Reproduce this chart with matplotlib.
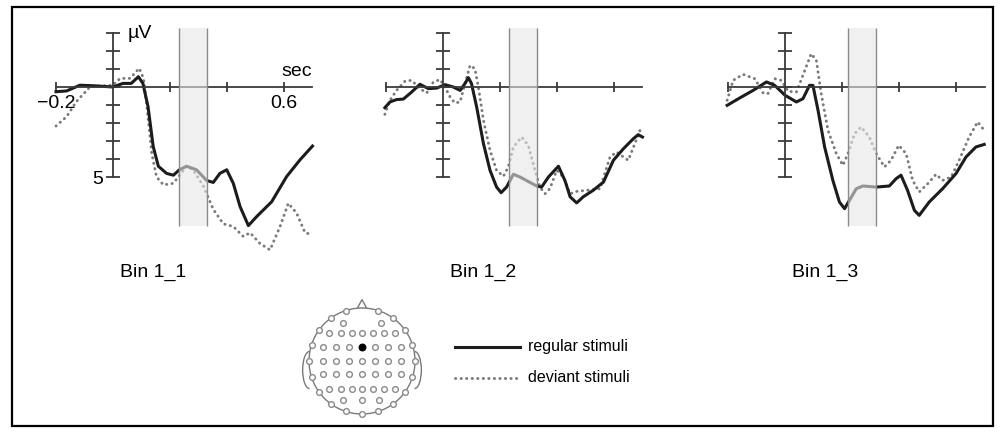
import matplotlib
matplotlib.use("Agg")
import matplotlib.pyplot as plt
from matplotlib.patches import Circle, Arc, Polygon, Rectangle
import numpy as np

plt.rcParams['font.family'] = ['Liberation Sans', 'DejaVu Sans']

# ---- data (time in s, amplitude in microvolts, negative up) ----
t1_reg = [-0.2, -0.163, -0.116, -0.069, 0.0, 0.035, 0.064, 0.089, 0.105, 0.123, 0.141, 0.159,
          0.188, 0.212, 0.233, 0.258, 0.293, 0.329, 0.352, 0.375, 0.399, 0.422, 0.446, 0.475,
          0.504, 0.557, 0.609, 0.656, 0.7]
v1_reg = [0.26, 0.22, -0.1, -0.07, 0.0, -0.2, -0.2, -0.57, -0.2, 1.1, 3.3, 4.4,
          4.8, 4.9, 4.6, 4.4, 4.6, 5.2, 5.3, 4.8, 4.6, 5.35, 6.65, 7.7,
          7.2, 6.37, 4.98, 4.05, 3.28]
t1_dev = [-0.2, -0.163, -0.128, -0.081, -0.052, 0.0, 0.025, 0.06, 0.092, 0.107, 0.119, 0.136,
          0.153, 0.177, 0.212, 0.229, 0.258, 0.281, 0.317, 0.352, 0.387, 0.422, 0.457, 0.481,
          0.516, 0.551, 0.586, 0.615, 0.644, 0.674, 0.7]
v1_dev = [2.17, 1.65, 0.8, 0.0, -0.05, -0.1, -0.48, -0.48, -1.04, -0.48, 1.1, 3.7,
          5.0, 5.44, 5.35, 5.0, 4.4, 4.6, 5.5, 6.8, 7.6, 7.75, 8.3, 8.1,
          8.7, 9.05, 7.76, 6.46, 7.0, 8.1, 8.2]

t2_reg = [-0.204, -0.186, -0.163, -0.139, -0.11, -0.081, -0.051, -0.022, 0.007, 0.036, 0.06,
          0.077, 0.089, 0.1, 0.118, 0.142, 0.165, 0.188, 0.204, 0.223, 0.247, 0.27, 0.305,
          0.329, 0.346, 0.37, 0.405, 0.428, 0.446, 0.469, 0.492, 0.527, 0.563, 0.598, 0.633,
          0.668, 0.685, 0.7]
v2_reg = [1.15, 0.83, 0.7, 0.67, 0.28, -0.15, 0.09, 0.06, -0.13, 0.0, 0.19,
          -0.19, -0.52, -0.19, 1.1, 3.15, 4.63, 5.56, 5.87, 5.56, 4.85, 5.0, 5.3,
          5.5, 5.56, 5.0, 4.4, 5.2, 6.1, 6.44, 6.1, 5.74, 5.28, 4.07, 3.43,
          2.87, 2.65, 2.78]
t2_dev = [-0.204, -0.186, -0.163, -0.133, -0.11, -0.081, -0.057, -0.034, -0.01, 0.007, 0.025,
          0.042, 0.06, 0.077, 0.095, 0.112, 0.124, 0.142, 0.165, 0.188, 0.212, 0.229, 0.247,
          0.276, 0.299, 0.323, 0.34, 0.358, 0.375, 0.399, 0.422, 0.446, 0.469, 0.504, 0.551,
          0.586, 0.609, 0.633, 0.65, 0.673, 0.691, 0.7]
v2_dev = [1.52, 0.74, 0.19, -0.33, -0.37, 0.09, 0.33, -0.28, -0.41, 0.0, 0.56,
          0.89, 0.83, -0.19, -1.2, -1.02, 0.0, 1.85, 3.52, 4.63, 4.96, 4.44, 3.33,
          2.78, 3.24, 4.63, 5.56, 5.93, 5.65, 4.63, 5.0, 5.93, 5.8, 5.74, 5.65,
          3.89, 3.61, 3.89, 4.07, 3.15, 2.41, 2.6]

t3_reg = [-0.203, -0.159, -0.112, -0.065, -0.036, 0.0, 0.04, 0.063, 0.086, 0.098, 0.116,
          0.139, 0.168, 0.191, 0.209, 0.226, 0.25, 0.273, 0.32, 0.366, 0.39, 0.407, 0.43,
          0.454, 0.471, 0.506, 0.553, 0.6, 0.635, 0.67, 0.699]
v3_reg = [1.02, 0.61, 0.19, -0.28, -0.09, 0.46, 0.83, 0.65, -0.09, -0.09, 1.3,
          3.33, 5.19, 6.39, 6.76, 6.3, 5.65, 5.5, 5.56, 5.5, 5.09, 4.9, 5.74,
          6.85, 7.13, 6.39, 5.65, 4.81, 3.89, 3.33, 3.19]
t3_dev = [-0.203, -0.182, -0.147, -0.106, -0.077, -0.06, -0.036, -0.013, 0.011, 0.04, 0.063,
          0.092, 0.11, 0.127, 0.151, 0.18, 0.203, 0.221, 0.244, 0.267, 0.296, 0.32, 0.349,
          0.372, 0.399, 0.425, 0.448, 0.471, 0.501, 0.53, 0.553, 0.583, 0.611, 0.646, 0.676,
          0.699]
v3_dev = [0.74, -0.37, -0.7, -0.46, 0.33, 0.37, -0.46, -0.37, 0.24, 0.28, -0.65,
          -1.85, -1.48, 0.37, 2.41, 3.7, 4.35, 3.7, 2.59, 2.22, 2.78, 3.7, 4.44,
          4.07, 3.24, 3.7, 5.19, 5.83, 5.37, 4.85, 5.19, 5.0, 4.07, 2.78, 1.94,
          2.41]

bins = ["Bin 1_1", "Bin 1_2", "Bin 1_3"]
windows = [(0.23, 0.33), (0.23, 0.33), (0.22, 0.32)]
x_ticks = [-0.2, 0.2, 0.4, 0.6]
y_ticks = [-3, -2, -1, 0, 1, 2, 3, 4, 5]

panels = [(t1_reg, v1_reg, t1_dev, v1_dev),
          (t2_reg, v2_reg, t2_dev, v2_dev),
          (t3_reg, v3_reg, t3_dev, v3_dev)]

# electrode montage (head radius = 1)
row_y = [0.72, 0.52, 0.26, 0.0, -0.25, -0.52, -0.74]
row_x = [[-0.35, 0.35],
         [-0.62, -0.39, -0.19, 0.0, 0.2, 0.41, 0.62],
         [-0.74, -0.49, -0.24, 0.0, 0.24, 0.49, 0.74],
         [-0.74, -0.49, -0.24, 0.0, 0.24, 0.49, 0.74],
         [-0.74, -0.49, -0.24, 0.0, 0.24, 0.49, 0.74],
         [-0.62, -0.39, -0.19, 0.0, 0.2, 0.41, 0.62],
         [-0.35, 0.0, 0.33]]
rim_angles = [18 * k for k in range(1, 20)]
active = (0.0, 0.26)

W, H = 1000, 433
fig = plt.figure(figsize=(10, 4.33), dpi=100)

# overlay axes in pixel units for frame, labels, legend
ov = fig.add_axes([0, 0, 1, 1])
ov.set_xlim(0, W)
ov.set_ylim(H, 0)
ov.axis('off')
ov.add_patch(Rectangle((12, 7), 981, 419, fill=False, ec='black', lw=1.6))

origins = [113, 443, 785]
oy = 87
pps = 285.0   # px per second
ppv = 18.0    # px per microvolt
for i, (tr, vr, td, vd) in enumerate(panels):
    ox = origins[i]
    left = ox - 83
    ax = fig.add_axes([left / W, 1 - 260 / H, 300 / W, 240 / H])
    ax.set_xlim(-83 / pps, 217 / pps)
    ax.set_ylim((260 - oy) / ppv, (20 - oy) / ppv)
    ax.patch.set_alpha(0)
    ax.plot(td, vd, color='#7a7a7a', lw=2.1, linestyle=(0, (0.1, 1.8)),
            dash_capstyle='round', zorder=2)
    ax.plot(tr, vr, color='#1c1c1c', lw=2.2, zorder=2.2)
    w0, w1 = windows[i]
    ax.fill_between([w0, w1], -3.3, 7.7, color='#e6e6e6', alpha=0.6, lw=0, zorder=3)
    ax.vlines([w0, w1], -3.3, 7.7, color='#8a8a8a', lw=1.0, zorder=3.1)

    for s in ['top', 'right']:
        ax.spines[s].set_visible(False)
    ax.spines['left'].set_position(('data', 0))
    ax.spines['bottom'].set_position(('data', 0))
    ax.spines['left'].set_bounds(-3, 5)
    ax.spines['bottom'].set_bounds(-0.2, 0.7)
    for s in ['left', 'bottom']:
        ax.spines[s].set_color('#3a3a3a')
        ax.spines[s].set_linewidth(1.3)
    ax.set_xticks(x_ticks)
    ax.set_yticks(y_ticks)
    ax.tick_params(axis='x', direction='inout', length=7, width=1.3, color='#3a3a3a',
                   labelsize=14, pad=2)
    ax.tick_params(axis='y', direction='inout', length=10, width=1.3, color='#3a3a3a',
                   labelsize=14, pad=2)
    if i == 0:
        ax.set_xticklabels(['\u22120.2', '', '', '0.6'])
        ax.set_yticklabels([''] * 8 + ['5'])
        ax.text(0.05, -3.0, 'µV', fontsize=14, ha='left', va='center')
        ax.text(0.645, -0.85, 'sec', fontsize=14, ha='center', va='center')
    else:
        ax.set_xticklabels([''] * 4)
        ax.set_yticklabels([''] * 9)
    ov.text(ox + 40, 272, bins[i], fontsize=14, ha='center', va='center')

# head map
hx = fig.add_axes([287 / W, 1 - 431 / H, 150 / W, 140 / H])
hx.set_xlim(-75 / 53, 75 / 53)
hx.set_ylim(-70 / 53, 70 / 53)
hx.axis('off')
hc = '#7a7a7a'
hx.add_patch(Polygon([(-0.09, 0.99), (0, 1.16), (0.09, 0.99)], closed=True,
                     fc='white', ec=hc, lw=1.0, zorder=1))
hx.add_patch(Arc((-0.99, -0.17), 0.26, 0.7, theta1=90, theta2=270, ec=hc, lw=1.0))
hx.add_patch(Arc((0.99, -0.17), 0.26, 0.7, theta1=-90, theta2=90, ec=hc, lw=1.0))
hx.add_patch(Circle((0, 0), 1.0, fc='white', ec=hc, lw=1.0, zorder=2))
ex, ey = [], []
for yy, xs in zip(row_y, row_x):
    for xx in xs:
        if (xx, yy) != active:
            ex.append(xx)
            ey.append(yy)
for a in rim_angles:
    ex.append(np.sin(np.radians(a)))
    ey.append(np.cos(np.radians(a)))
hx.scatter(ex, ey, s=17, facecolors='white', edgecolors='#8a8a8a', linewidths=1.0, zorder=3)
hx.scatter([active[0]], [active[1]], s=22, color='black', zorder=4)

# legend
ov.plot([455, 520], [347, 347], color='#1c1c1c', lw=2.2)
ov.plot([455, 520], [378, 378], color='#7a7a7a', lw=2.1, linestyle=(0, (0.1, 1.8)),
        dash_capstyle='round')
ov.text(528, 347, 'regular stimuli', fontsize=11.5, ha='left', va='center')
ov.text(528, 378, 'deviant stimuli', fontsize=11.5, ha='left', va='center')

fig.savefig('out.png', dpi=100)
